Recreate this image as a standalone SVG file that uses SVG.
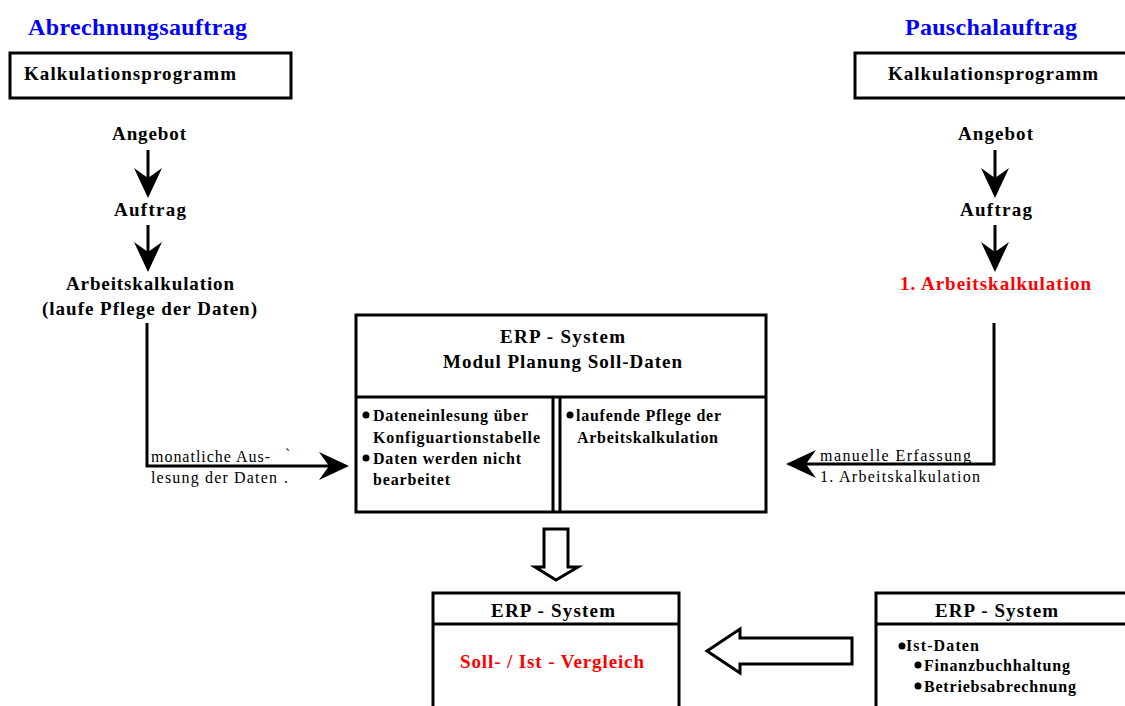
<svg xmlns="http://www.w3.org/2000/svg" width="1125" height="706" viewBox="0 0 1125 706">
<style>
.t{font-family:"Liberation Serif","Times New Roman",serif;font-weight:bold;fill:#000}
.h{font-size:24px;fill:#0000ff}
.l{font-size:19px}
.s{font-size:16px}
.n{font-weight:normal}
.red{fill:#ff0000}
.box{fill:#fff;stroke:#000;stroke-width:3}
.ln{fill:none;stroke:#000;stroke-width:3}
.hol{fill:#fff;stroke:#000;stroke-width:3;stroke-linejoin:miter}
</style>
<defs>
<path id="stealth" d="M0,0 L-30,-14 L-20,0 L-30,14 Z" fill="#000"/>
</defs>
<rect width="1125" height="706" fill="#fff"/>
<text class="t h" x="28" y="35" textLength="219" lengthAdjust="spacing">Abrechnungsauftrag</text>
<text class="t h" x="905" y="35" textLength="172" lengthAdjust="spacing">Pauschalauftrag</text>

<g id="kalk-left">
<rect class="box" x="10" y="53" width="281" height="45"/>
<text class="t l" x="24" y="80" textLength="212" lengthAdjust="spacing">Kalkulationsprogramm</text>
</g>
<g id="kalk-right">
<rect class="box" x="855" y="53" width="280" height="45"/>
<text class="t l" x="888" y="80" textLength="210" lengthAdjust="spacing">Kalkulationsprogramm</text>
</g>

<g id="angebot-left"><text class="t l" x="112" y="140" textLength="74" lengthAdjust="spacing">Angebot</text></g>
<g id="auftrag-left"><text class="t l" x="114" y="216" textLength="72" lengthAdjust="spacing">Auftrag</text></g>
<g id="arbeitskalk-left">
<text class="t l" x="66" y="290" textLength="168" lengthAdjust="spacing">Arbeitskalkulation</text>
<text class="t l" x="42" y="315" textLength="215" lengthAdjust="spacing">(laufe Pflege der Daten)</text>
</g>
<g id="angebot-right"><text class="t l" x="958" y="140" textLength="75" lengthAdjust="spacing">Angebot</text></g>
<g id="auftrag-right"><text class="t l" x="960" y="216" textLength="72" lengthAdjust="spacing">Auftrag</text></g>
<g id="arbeitskalk-right"><text class="t l red" x="900" y="290" textLength="191" lengthAdjust="spacing">1. Arbeitskalkulation</text></g>

<g id="erp-planung">
<rect class="box" x="356" y="315" width="410" height="197"/>
<line class="ln" x1="356" y1="397" x2="766" y2="397"/>
<line class="ln" x1="553" y1="397" x2="553" y2="512"/>
<line class="ln" x1="560" y1="397" x2="560" y2="512"/>
<text class="t l" x="500" y="343" textLength="125" lengthAdjust="spacing">ERP - System</text>
<text class="t l" x="443" y="368" textLength="239" lengthAdjust="spacing">Modul Planung Soll-Daten</text>
<circle cx="366" cy="415" r="3.5"/>
<text class="t s" x="373" y="421" textLength="155" lengthAdjust="spacing">Dateneinlesung über</text>
<text class="t s" x="373" y="443" textLength="167" lengthAdjust="spacing">Konfiguartionstabelle</text>
<circle cx="366" cy="458" r="3.5"/>
<text class="t s" x="373" y="464" textLength="148" lengthAdjust="spacing">Daten werden nicht</text>
<text class="t s" x="373" y="485" textLength="77" lengthAdjust="spacing">bearbeitet</text>
<circle cx="570" cy="415" r="3.5"/>
<text class="t s" x="576" y="421" textLength="145" lengthAdjust="spacing">laufende Pflege der</text>
<text class="t s" x="577" y="443" textLength="141" lengthAdjust="spacing">Arbeitskalkulation</text>
</g>

<g id="erp-vergleich">
<rect class="box" x="433" y="593" width="246" height="120"/>
<line class="ln" x1="433" y1="624" x2="679" y2="624"/>
<text class="t l" x="491" y="617" textLength="124" lengthAdjust="spacing">ERP - System</text>
<text class="t l red" x="460" y="668" textLength="184" lengthAdjust="spacing">Soll- / Ist - Vergleich</text>
</g>

<g id="erp-ist">
<rect class="box" x="876" y="593" width="260" height="120"/>
<line class="ln" x1="876" y1="624" x2="1125" y2="624"/>
<text class="t l" x="935" y="617" textLength="123" lengthAdjust="spacing">ERP - System</text>
<circle cx="902" cy="646" r="3.5"/>
<text class="t s" x="906" y="651" textLength="73" lengthAdjust="spacing">Ist-Daten</text>
<circle cx="918" cy="665" r="3.5"/>
<text class="t s" x="924" y="671" textLength="146" lengthAdjust="spacing">Finanzbuchhaltung</text>
<circle cx="918" cy="686" r="3.5"/>
<text class="t s" x="924" y="692" textLength="152" lengthAdjust="spacing">Betriebsabrechnung</text>
</g>

<g id="connectors">
<line class="ln" x1="148" y1="150" x2="148" y2="180"/>
<use href="#stealth" transform="translate(148,198) rotate(90)"/>
<line class="ln" x1="148" y1="225" x2="148" y2="255"/>
<use href="#stealth" transform="translate(148,272) rotate(90)"/>
<line class="ln" x1="995" y1="150" x2="995" y2="180"/>
<use href="#stealth" transform="translate(995,198) rotate(90)"/>
<line class="ln" x1="995" y1="225" x2="995" y2="255"/>
<use href="#stealth" transform="translate(995,272) rotate(90)"/>
<polyline class="ln" points="147,323 147,466 330,466"/>
<use href="#stealth" transform="translate(349,466)"/>
<polyline class="ln" points="994,323 994,464 805,464"/>
<use href="#stealth" transform="translate(786,464) rotate(180)"/>
<path class="hol" d="M544,529 H568 V567 H578 L556,580 L535,567 H544 Z"/>
<path class="hol" d="M852,638 V664 H740 V673 L707,651 L740,629 V638 Z"/>
<text class="t s n" x="151" y="462" textLength="119" lengthAdjust="spacing">monatliche Aus-</text>
<text class="t s n" x="285" y="460">`</text>
<text class="t s n" x="151" y="483" textLength="126" lengthAdjust="spacing">lesung der Daten</text>
<text class="t s n" x="284" y="483">.</text>
<text class="t s n" x="820" y="461" textLength="151" lengthAdjust="spacing">manuelle Erfassung</text>
<text class="t s n" x="820" y="482" textLength="160" lengthAdjust="spacing">1. Arbeitskalkulation</text>
</g>
</svg>
